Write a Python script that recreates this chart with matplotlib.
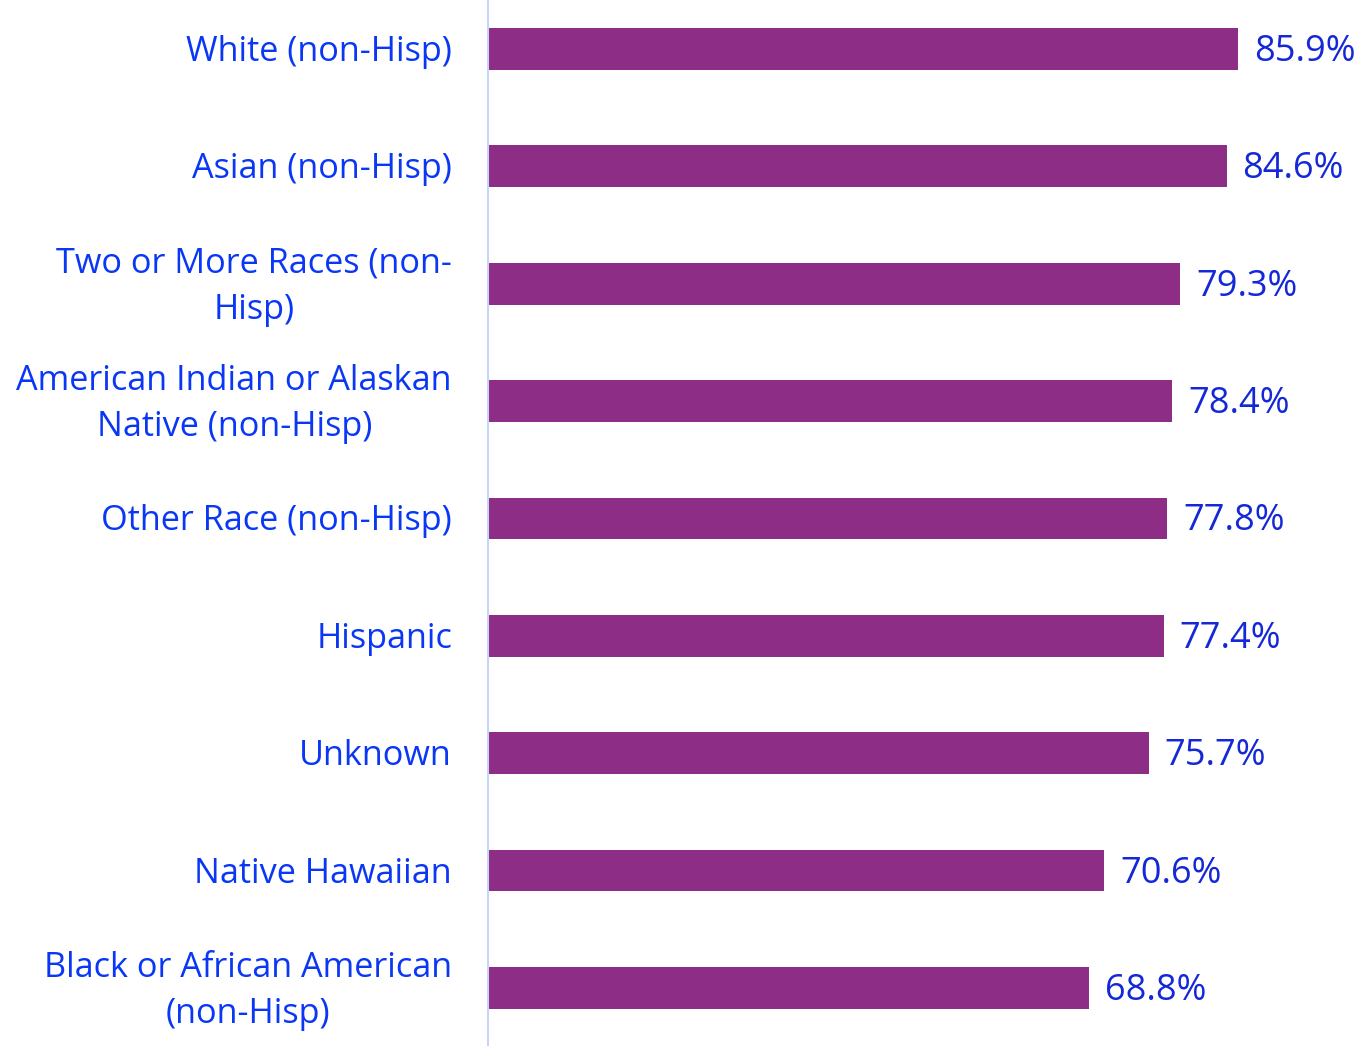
import numpy as np
import matplotlib.pyplot as plt

categories = [
    "White (non-Hisp)",
    "Asian (non-Hisp)",
    "Two or More Races (non-\nHisp)",
    "American Indian or Alaskan\nNative (non-Hisp)",
    "Other Race (non-Hisp)",
    "Hispanic",
    "Unknown",
    "Native Hawaiian",
    "Black or African American\n(non-Hisp)",
]
values = [85.9, 84.6, 79.3, 78.4, 77.8, 77.4, 75.7, 70.6, 68.8]

bar_color = "#8E2D85"
label_color = "#0A37F5"
value_color = "#1428D8"

plt.rcParams['font.family'] = ['Open Sans', 'DejaVu Sans']

fig = plt.figure(figsize=(13.71, 10.46), dpi=100)
ax = fig.add_axes([488 / 1371, 0, 1 - 488 / 1371, 1])

y = np.arange(len(values))
ax.barh(y, values, height=0.355, color=bar_color)

# value labels just right of each bar
for yi, v in zip(y, values):
    ax.annotate(f"{v:.1f}%", xy=(v, yi), xytext=(16, -3), textcoords="offset pixels",
                va="center", ha="left", fontsize=26, color=value_color)

# category labels, right aligned, multi-line centred
for yi, lab in zip(y, categories):
    ax.annotate(lab, xy=(0, yi), xytext=(-36, -3), textcoords="offset pixels",
                ha="right", va="center", multialignment="center",
                fontsize=24.7, color=label_color, linespacing=1.45)

ax.set_xlim(0, (1371 - 488) / 8.73)
ax.set_ylim(8.494, -0.417)
ax.set_xticks([])
ax.set_yticks([])
for s in ["top", "right", "bottom"]:
    ax.spines[s].set_visible(False)
ax.spines["left"].set_color("#C8D4F5")
ax.spines["left"].set_linewidth(1.5)

fig.savefig("out.png", dpi=100)
